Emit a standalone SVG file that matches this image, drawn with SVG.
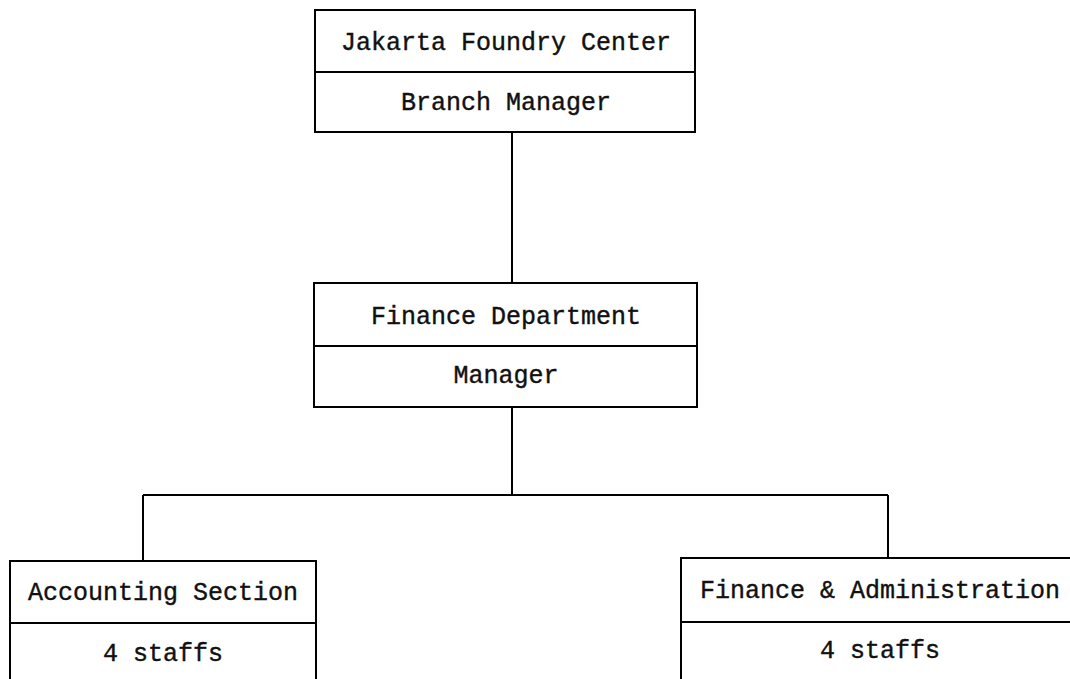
<svg xmlns="http://www.w3.org/2000/svg" width="1070" height="679" viewBox="0 0 1070 679">
<style>
.box{fill:#fff;stroke:#000;stroke-width:2}
.div{stroke:#000;stroke-width:2}
.conn{fill:none;stroke:#000;stroke-width:2}
text{font-family:"Liberation Mono","Courier New",monospace;font-size:25px;fill:#111;stroke:#111;stroke-width:0.4;text-anchor:middle}
</style>
<rect width="1070" height="679" fill="#fff"/>
<g id="connectors">
<path class="conn" d="M512 132 V283"/>
<path class="conn" d="M512 407 V495"/>
<path class="conn" d="M143 495 H888"/>
<path class="conn" d="M143 495 V561"/>
<path class="conn" d="M888 495 V558"/>
</g>
<g id="jakarta">
<rect class="box" x="315" y="10" width="380" height="122"/>
<line class="div" x1="315" y1="72" x2="695" y2="72"/>
<text x="506" y="50">Jakarta Foundry Center</text>
<text x="506" y="110">Branch Manager</text>
</g>
<g id="finance-dept">
<rect class="box" x="314" y="283" width="383" height="124"/>
<line class="div" x1="314" y1="346" x2="697" y2="346"/>
<text x="506" y="324">Finance Department</text>
<text x="506" y="383">Manager</text>
</g>
<g id="accounting">
<rect class="box" x="10" y="561" width="306" height="130"/>
<line class="div" x1="10" y1="623" x2="316" y2="623"/>
<text x="163" y="600">Accounting Section</text>
<text x="163" y="661">4 staffs</text>
</g>
<g id="finance-admin">
<rect class="box" x="681" y="558" width="400" height="130"/>
<line class="div" x1="681" y1="622" x2="1081" y2="622"/>
<text x="880" y="598">Finance &amp; Administration</text>
<text x="880" y="658">4 staffs</text>
</g>
</svg>
